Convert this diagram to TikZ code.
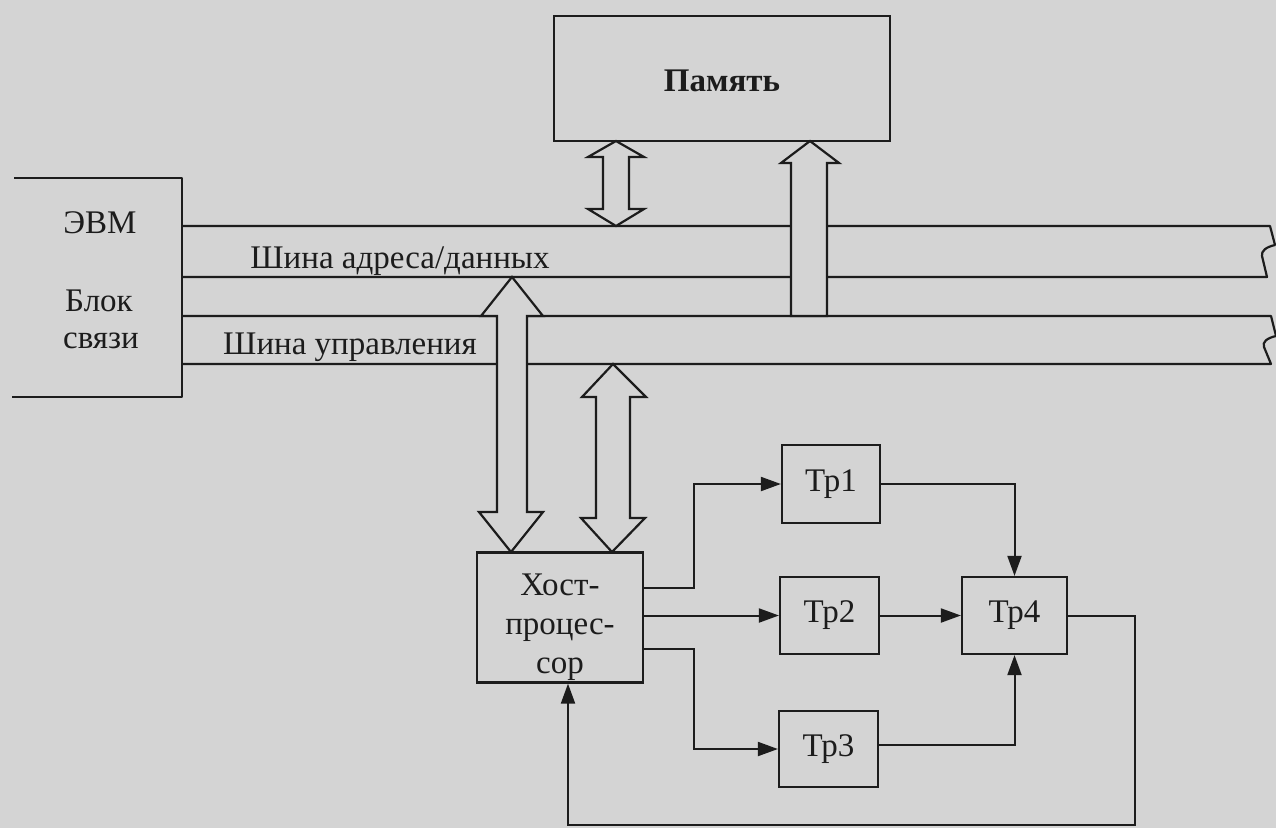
\documentclass[tikz,border=0pt]{standalone}
\usepackage{fontspec}
\setmainfont{Liberation Serif}
\usetikzlibrary{arrows.meta}
\definecolor{paper}{RGB}{212,212,212}
\definecolor{ink}{RGB}{28,28,28}
\newcommand\lblfont{\fontsize{33}{40}\selectfont}
\begin{document}
\begin{tikzpicture}[x=1pt,y=-1pt,color=ink,
  lbl/.style={font=\lblfont, inner sep=0pt},
  boxnode/.style={draw, line width=2.2pt, inner sep=0pt, font=\lblfont},
  conn/.style={line width=2pt, -{Triangle[length=20pt,width=14pt]}},
  blk/.style={fill=paper, line width=2.2pt, line join=miter},
  bus/.style={line width=2.2pt, line join=round}]
\fill[paper] (0,0) rectangle (1276,828);
\useasboundingbox (0,0) rectangle (1276,828);

% ЭВМ / Блок связи
\draw[bus] (14,178) -- (182,178) -- (182,397) -- (12,397);
\node[lbl, anchor=base] (evm) at (100,233) {ЭВМ};
\node[lbl, anchor=base] (blok) at (99,311) {Блок};
\node[lbl, anchor=base] (svyazi) at (101,348) {связи};

% buses
\draw[bus] (182,226) -- (1270,226) -- (1275,245) .. controls (1266,247) and (1261,251) .. (1262,256) -- (1267,277) -- (182,277);
\draw[bus] (182,316) -- (1271,316) -- (1276,336) .. controls (1267,338) and (1262,342) .. (1264,347) -- (1271,364) -- (182,364);
\node[lbl, anchor=base] (busad) at (400,268) {Шина адреса/данных};
\node[lbl, anchor=base] (busup) at (350,354) {Шина управления};

% memory
\node[boxnode, minimum width=336pt, minimum height=125pt] (mem) at (722,78.5) {};
\node[lbl, font=\lblfont\bfseries, anchor=base] (memlbl) at (722,91) {Память};

% block arrows
\draw[blk] (616,141) -- (644,157) -- (629,157) -- (629,209) -- (644,209) -- (616,226) -- (588,209) -- (603,209) -- (603,157) -- (588,157) -- cycle;
\draw[blk] (810,141) -- (839,163) -- (827,163) -- (827,316) -- (791,316) -- (791,163) -- (781,163) -- cycle;
\draw[blk] (512,277) -- (543,316) -- (527,316) -- (527,512) -- (543,512) -- (511,552) -- (479,512) -- (497,512) -- (497,316) -- (481,316) -- cycle;
\draw[blk] (613,364) -- (646,397) -- (630,397) -- (630,518) -- (645,518) -- (612,552) -- (581,518) -- (596,518) -- (596,397) -- (582,397) -- cycle;

% host processor
\node[boxnode, minimum width=166pt, minimum height=130pt] (host) at (560,617.5) {};
\node[lbl, anchor=base] (hostl1) at (560,595) {Хост-};
\node[lbl, anchor=base] (hostl2) at (560,634) {процес-};
\node[lbl, anchor=base] (hostl3) at (560,673) {сор};

% transputers
\node[boxnode, minimum width=98pt, minimum height=78pt] (tp1) at (831,484) {Тр1};
\node[boxnode, minimum width=99pt, minimum height=77pt] (tp2) at (829.5,615.5) {Тр2};
\node[boxnode, minimum width=99pt, minimum height=76pt] (tp3) at (828.5,749) {Тр3};
\node[boxnode, minimum width=105pt, minimum height=77pt] (tp4) at (1014.5,615.5) {Тр4};

% connectors
\draw[conn] ([yshift=29.5pt]host.east) -- ++(50,0) |- (tp1.west);
\draw[conn] (host.east |- tp2.west) -- (tp2.west);
\draw[conn] ([yshift=-31.5pt]host.east) -- ++(50,0) |- (tp3.west);
\draw[conn] (tp1.east) -| (tp4.north);
\draw[conn] (tp2.east) -- (tp4.west);
\draw[conn] ([yshift=4pt]tp3.east) -| (tp4.south);
\coordinate (fbR) at (1135,825);
\coordinate (fbL) at (568,825);
\draw[conn] (tp4.east) -| (fbR) -- (fbL) -- (fbL |- host.south);
\end{tikzpicture}
\end{document}
